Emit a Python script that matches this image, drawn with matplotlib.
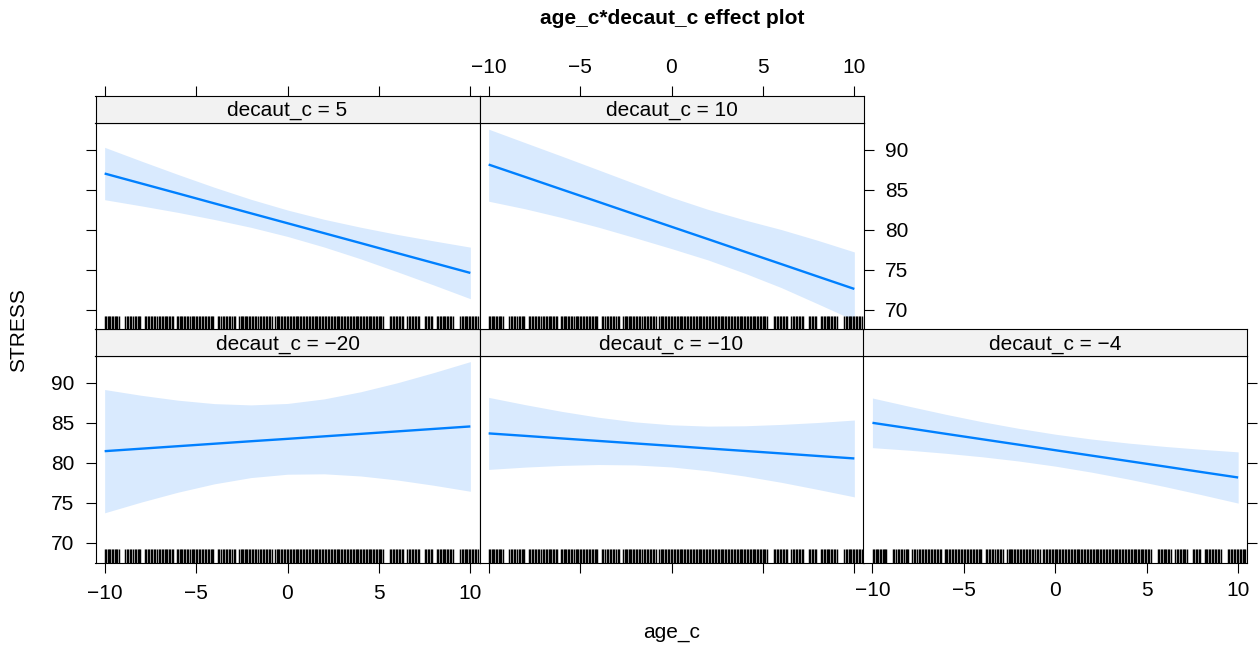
import matplotlib
matplotlib.use("Agg")
import matplotlib.pyplot as plt

plt.rcParams['font.family'] = ['Liberation Sans', 'DejaVu Sans']

# ---------------- data ----------------
panel_labels = ["decaut_c = \u221220", "decaut_c = \u221210", "decaut_c = \u22124",
                "decaut_c = 5", "decaut_c = 10"]
age_grid = [-10, -8, -6, -4, -2, 0, 2, 4, 6, 8, 10]

fit_m20 = [81.46, 81.77, 82.08, 82.39, 82.70, 83.00, 83.31, 83.62, 83.93, 84.24, 84.55]
upr_m20 = [89.16, 88.44, 87.83, 87.40, 87.24, 87.42, 87.99, 88.88, 90.00, 91.28, 92.65]
lwr_m20 = [73.76, 75.10, 76.33, 77.38, 78.16, 78.58, 78.63, 78.36, 77.86, 77.20, 76.45]

fit_m10 = [83.68, 83.37, 83.05, 82.74, 82.43, 82.12, 81.80, 81.49, 81.18, 80.86, 80.55]
upr_m10 = [88.18, 87.27, 86.43, 85.70, 85.12, 84.75, 84.59, 84.63, 84.80, 85.04, 85.35]
lwr_m10 = [79.18, 79.47, 79.68, 79.79, 79.74, 79.49, 79.01, 78.35, 77.57, 76.68, 75.75]

fit_m4 = [85.00, 84.32, 83.63, 82.95, 82.27, 81.58, 80.90, 80.22, 79.54, 78.85, 78.17]
upr_m4 = [88.10, 87.07, 86.07, 85.14, 84.31, 83.58, 82.97, 82.47, 82.05, 81.69, 81.37]
lwr_m4 = [81.90, 81.58, 81.20, 80.76, 80.23, 79.59, 78.83, 77.97, 77.03, 76.02, 74.97]

fit_p5 = [87.00, 85.76, 84.52, 83.27, 82.03, 80.79, 79.55, 78.31, 77.06, 75.82, 74.58]
upr_p5 = [90.27, 88.56, 86.89, 85.28, 83.78, 82.44, 81.28, 80.29, 79.39, 78.58, 77.80]
lwr_p5 = [83.73, 82.96, 82.15, 81.26, 80.28, 79.14, 77.82, 76.34, 74.73, 73.07, 71.36]

fit_p10 = [88.12, 86.57, 85.01, 83.46, 81.90, 80.35, 78.80, 77.24, 75.69, 74.13, 72.58]
upr_p10 = [92.54, 90.85, 89.17, 87.46, 85.74, 84.03, 82.52, 81.20, 80.00, 78.65, 77.20]
lwr_p10 = [83.54, 82.59, 81.50, 80.30, 78.98, 77.62, 76.20, 74.55, 72.75, 70.72, 68.66]

rug_age = [
    -9.96, -9.90, -9.82, -9.75, -9.68, -9.60, -9.52, -9.45, -9.38, -9.30, -9.24,
    -8.87, -8.80, -8.71, -8.62, -8.55, -8.44, -8.36, -8.27, -8.18, -8.10, -8.05,
    -7.81, -7.74, -7.65, -7.57, -7.48, -7.40, -7.31, -7.22, -7.13, -7.05, -6.96,
    -6.88, -6.80, -6.72, -6.65, -6.59,
    -6.46, -6.40, -6.33, -6.27,
    -6.04, -5.97, -5.90, -5.83, -5.75, -5.66, -5.58, -5.50, -5.42, -5.33, -5.25,
    -5.18, -5.10, -5.02, -4.93, -4.85, -4.77, -4.68, -4.60, -4.52, -4.44, -4.36,
    -4.28, -4.20, -4.12, -4.05,
    -3.80, -3.72, -3.64, -3.55, -3.47, -3.38, -3.30, -3.21, -3.12, -3.04, -2.95, -2.87,
    -2.64, -2.55, -2.47, -2.41,
    -2.35, -2.28, -2.20, -2.12, -2.03, -1.95, -1.86, -1.78, -1.70, -1.61, -1.53,
    -1.45, -1.36, -1.28, -1.20, -1.11, -1.02, -0.94, -0.86,
    -0.67, -0.60, -0.52, -0.44, -0.36, -0.28, -0.20, -0.12, -0.04, 0.04, 0.12,
    0.20, 0.28, 0.36, 0.44, 0.52, 0.60, 0.68, 0.76, 0.84, 0.92, 1.00, 1.08, 1.16,
    1.24, 1.32, 1.40, 1.48, 1.56, 1.64, 1.72, 1.80, 1.88, 1.96, 2.04, 2.12, 2.20,
    2.28, 2.36, 2.44, 2.52, 2.60, 2.68, 2.76, 2.84, 2.92, 3.00, 3.08, 3.16, 3.24,
    3.32, 3.40, 3.48, 3.56, 3.64, 3.72, 3.80, 3.88, 3.96, 4.04, 4.12, 4.20, 4.28,
    4.36, 4.43, 4.50, 4.58, 4.66, 4.74, 4.82, 4.90, 4.98, 5.06, 5.14, 5.22,
    5.61, 5.68, 5.76, 5.84, 5.92, 6.00, 6.08, 6.16, 6.24, 6.32,
    6.56, 6.64, 6.72, 6.80, 6.88, 6.96, 7.04, 7.12, 7.20,
    7.52, 7.60, 7.68, 7.76, 7.84, 7.92,
    8.16, 8.24, 8.32, 8.40, 8.48, 8.56, 8.64, 8.72, 8.80, 8.88, 8.96, 9.04,
    9.44, 9.52, 9.60, 9.68, 9.76, 9.84, 9.92, 10.00, 10.08, 10.16, 10.24, 10.32, 10.40,
]

x_ticks = [-10, -5, 0, 5, 10]
y_ticks = [70, 75, 80, 85, 90]

# ---------------- layout ----------------
W, H = 1260, 645
fig = plt.figure(figsize=(W / 100, H / 100), dpi=100)

FS = 15
LINE_C = '#0080FF'
BAND_C = '#D9EAFE'
STRIP_C = '#F2F2F2'
XLIM = (-10.5, 10.5)
YLIM = (67.55, 93.35)

pan_x = [95.5, 479.5, 863.3]
pan_w = 384.0
pan_h = 206.5
strip_h = 26.8
bottom_plot_top = 356.0
top_plot_top = 122.7


def fig_rect(x, ytop, w, h):
    return [x / W, 1 - (ytop + h) / H, w / W, h / H]


panels = [
    (0, 1, fit_m20, lwr_m20, upr_m20, panel_labels[0]),
    (1, 1, fit_m10, lwr_m10, upr_m10, panel_labels[1]),
    (2, 1, fit_m4, lwr_m4, upr_m4, panel_labels[2]),
    (0, 0, fit_p5, lwr_p5, upr_p5, panel_labels[3]),
    (1, 0, fit_p10, lwr_p10, upr_p10, panel_labels[4]),
]

TL = 7.4
PAD = 6

for col, row, fit, lwr, upr, lab in panels:
    ptop = bottom_plot_top if row == 1 else top_plot_top
    ax = fig.add_axes(fig_rect(pan_x[col], ptop, pan_w, pan_h))
    sax = fig.add_axes(fig_rect(pan_x[col], ptop - strip_h, pan_w, strip_h))

    ax.fill_between(age_grid, lwr, upr, color=BAND_C, lw=0)
    ax.plot(age_grid, fit, color=LINE_C, lw=1.7, solid_capstyle='butt')
    ax.vlines(rug_age, 0, 0.066, transform=ax.get_xaxis_transform(),
              color='black', lw=1.05)
    ax.set_xlim(*XLIM)
    ax.set_ylim(*YLIM)
    ax.set_xticks(x_ticks)
    ax.set_yticks(y_ticks)
    for sp in ax.spines.values():
        sp.set_linewidth(0.8)
        sp.set_color('black')

    ax.tick_params(direction='out', length=TL, width=0.8, labelsize=FS, pad=PAD,
                   bottom=False, labelbottom=False, top=False, labeltop=False,
                   left=False, labelleft=False, right=False, labelright=False)

    sax.set_facecolor(STRIP_C)
    sax.set_xlim(*XLIM)
    sax.set_ylim(0, 1)
    sax.set_xticks(x_ticks)
    sax.set_yticks([])
    for sp in sax.spines.values():
        sp.set_linewidth(0.8)
        sp.set_color('black')
    sax.tick_params(direction='out', length=TL, width=0.8, labelsize=FS, pad=PAD,
                    bottom=False, labelbottom=False, top=False, labeltop=False)
    sax.text(0.5, 0.45, lab, transform=sax.transAxes, ha='center', va='center',
             fontsize=FS)

    if row == 1:
        ax.tick_params(bottom=True, labelbottom=(col != 1))
        if col == 0:
            ax.tick_params(left=True, labelleft=True, pad=8)
        if col == 2:
            ax.tick_params(right=True, labelright=False)
    else:
        sax.xaxis.set_ticks_position('top')
        sax.tick_params(top=True, labeltop=(col == 1), bottom=False, labelbottom=False)
        if col == 0:
            ax.tick_params(left=True, labelleft=False)
        if col == 1:
            ax.tick_params(right=True, labelright=True, pad=8)

fig.text(672 / W, 1 - 19 / H, "age_c*decaut_c effect plot", ha='center', va='center',
         fontsize=FS, fontweight='bold')
fig.text(672 / W, 1 - 632 / H, "age_c", ha='center', va='center', fontsize=FS)
fig.text(19 / W, 1 - 330 / H, "STRESS", ha='center', va='center', fontsize=FS,
         rotation=90)

fig.savefig("out.png", dpi=100)
